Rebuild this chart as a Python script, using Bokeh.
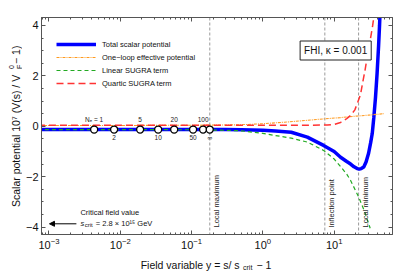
import math
from bokeh.plotting import figure
from bokeh.layouts import column, row
from bokeh.models import (Range1d, FixedTicker, LogAxis, LinearAxis, Label, Legend,
                          LegendItem, Span, Arrow, NormalHead, ColumnDataSource)
from bokeh.core.properties import value
from bokeh.embed import file_html
from bokeh.resources import INLINE

FONT = "Liberation Sans"

# ---------------- data ----------------
total_y = [0.0007, 0.01, 0.1, 0.3, 0.5, 1.0, 1.5, 2.5, 4.2, 7.1, 10.0, 12.3, 15.0, 17.0,
           19.0, 21.0, 22.5, 24.0, 26.0, 28.0, 30.4, 32.5, 34.2, 36.0, 38.0, 40.0, 42.0, 43.3, 45.0]
total_v = [-0.13, -0.13, -0.13, -0.13, -0.14, -0.16, -0.19, -0.24, -0.43, -0.76, -1.0, -1.23, -1.4, -1.5,
           -1.61, -1.68, -1.7, -1.68, -1.62, -1.42, -1.07, -0.65, -0.29, 0.35, 1.15, 2.1, 3.2, 4.0, 5.2]

loop_y = [0.0007, 0.001, 0.003, 0.01, 0.03, 0.1, 0.3, 0.5, 1.0, 2.0, 4.0, 7.0, 12.0, 20.0, 30.0, 50.0]
loop_v = [0.03, 0.03, 0.03, 0.03, 0.035, 0.04, 0.05, 0.06, 0.1, 0.16, 0.23, 0.29, 0.34, 0.4, 0.44, 0.5]

linear_y = [0.0007, 0.01, 0.1, 0.3, 0.49, 1.0, 1.43, 2.5, 4.22, 7.13, 10.0, 12.3, 15.0, 17.0, 22.0, 26.0, 30.4, 32.0]
linear_v = [-0.13, -0.13, -0.14, -0.16, -0.18, -0.28, -0.36, -0.47, -0.63, -0.96, -1.3, -1.6, -1.9, -2.15,
            -2.8, -3.3, -3.86, -4.05]

quartic_y = [0.0007, 0.01, 0.1, 1.0, 5.0, 8.0, 10.0, 12.3, 15.0, 17.0, 19.5, 21.4, 23.4, 24.8, 27.0,
             29.1, 32.4, 34.7, 37.0]
quartic_v = [0.04, 0.04, 0.04, 0.04, 0.04, 0.05, 0.07, 0.15, 0.3, 0.43, 0.65, 0.95, 1.25, 1.65, 2.2,
             2.75, 3.5, 4.0, 4.6]

ne_labels = ["N\u2091 = 1", "2", "5", "10", "20", "50", "100", "\u221e"]
ne_y = [0.0043, 0.0082, 0.019, 0.034, 0.057, 0.105, 0.145, 0.18]
ne_v = [-0.13, -0.13, -0.13, -0.13, -0.13, -0.13, -0.13, -0.13]

special_names = ["Local maximum", "Inflection point", "Local minimum"]
special_y = [0.18, 7.4, 22.0]

x_major = [0.001, 0.01, 0.1, 1.0, 10.0]
x_major_labels = ["10\u207b\u00b3", "10\u207b\u00b2", "10\u207b\u00b9", "10\u2070", "10\u00b9"]
y_major = [-4, -2, 0, 2, 4]
y_major_labels = ["\u22124", "\u22122", "0", "2", "4"]

# ---------------- layout helpers (reference pixel -> data) ----------------
X_UNIT, X_ZERO_PX = 71.5, 262.0
V_UNIT, V_ZERO_PX = 25.2, 125.75


def px2x(px):
    return 10 ** ((px - X_ZERO_PX) / X_UNIT)


def py2v(py):
    return (V_ZERO_PX - py) / V_UNIT


YLAB_W = 22
MAIN_H = 257
XLAB_H = 15

p = figure(width=395 - YLAB_W, height=MAIN_H, x_axis_type="log",
           x_range=Range1d(px2x(40), px2x(392)), y_range=Range1d(py2v(234), py2v(17)),
           output_backend="svg", toolbar_location=None,
           min_border_left=40 - YLAB_W, min_border_right=3, min_border_top=17,
           min_border_bottom=MAIN_H - 234)
p.grid.visible = False
p.outline_line_color = "#555555"
p.background_fill_color = "white"
p.border_fill_color = "white"

x_minor = [k * 10.0 ** d for d in range(-4, 2) for k in range(2, 10)]
y_minor = [-4 + 0.5 * i for i in range(17)]


def style_axis(ax, show):
    ax.axis_line_color = "#555555"
    ax.major_tick_line_color = "#555555"
    ax.minor_tick_line_color = "#555555"
    ax.major_tick_in = 4
    ax.major_tick_out = 0
    ax.minor_tick_in = 2
    ax.minor_tick_out = 0
    ax.major_label_text_font = FONT
    if show:
        ax.major_label_text_font_size = "11px"
        ax.major_label_text_color = "#111111"
        ax.major_label_standoff = 3
    else:
        ax.major_label_text_font_size = "1px"
        ax.major_label_text_color = None
        ax.major_label_standoff = 0


xa = p.xaxis[0]
xa.ticker = FixedTicker(ticks=x_major, minor_ticks=x_minor)
xa.major_label_overrides = {str(k): v for k, v in zip(x_major, x_major_labels)}
style_axis(xa, True)
ya = p.yaxis[0]
ya.ticker = FixedTicker(ticks=y_major, minor_ticks=y_minor)
ya.major_label_overrides = {str(k): v for k, v in zip(y_major, y_major_labels)}
style_axis(ya, True)

top_ax = LogAxis(ticker=FixedTicker(ticks=x_major, minor_ticks=x_minor))
style_axis(top_ax, False)
p.add_layout(top_ax, "above")
right_ax = LinearAxis(ticker=FixedTicker(ticks=y_major, minor_ticks=y_minor))
style_axis(right_ax, False)
p.add_layout(right_ax, "right")

# vertical reference lines + rotated labels
for loc, txt in zip(special_y, special_names):
    p.add_layout(Span(location=loc, dimension="height", line_color="#9a9a9a",
                      line_dash="3 2", line_width=1, level="underlay"))
    p.add_layout(Label(x=loc, y=py2v(227), text=txt, angle=math.pi / 2,
                       text_align="left", text_baseline="top", x_offset=2,
                       text_font=FONT, text_font_size="7.5px", text_color="#222222"))

# curves
r_total = p.line(total_y, total_v, line_color="#0000FF", line_width=3.5)
r_loop = p.line(loop_y, loop_v, line_color="#FF9A1F", line_width=1.1, line_dash="3 1 1 1")
r_lin = p.line(linear_y, linear_v, line_color="#22AA22", line_width=1.2, line_dash="4 3")
r_quart = p.line(quartic_y, quartic_v, line_color="#FF3333", line_width=1.5, line_dash="7 4")

# N_e markers and labels
p.scatter(ne_y, ne_v, size=7, fill_color="white", line_color="black", line_width=1.3)
above = ColumnDataSource(dict(x=ne_y[0::2], y=ne_v[0::2], t=ne_labels[0::2]))
below = ColumnDataSource(dict(x=ne_y[1::2], y=ne_v[1::2], t=ne_labels[1::2]))
p.text(x="x", y="y", text="t", source=above, text_font=value(FONT), text_font_size="6.5px",
       text_align="center", text_baseline="middle", y_offset=-10, text_color="#222222")
p.text(x="x", y="y", text="t", source=below, text_font=value(FONT), text_font_size="6.5px",
       text_align="center", text_baseline="middle", y_offset=8, text_color="#222222")

# legend
legend = Legend(items=[LegendItem(label="Total scalar potential", renderers=[r_total]),
                       LegendItem(label="One\u2212loop effective potential", renderers=[r_loop]),
                       LegendItem(label="Linear SUGRA term", renderers=[r_lin]),
                       LegendItem(label="Quartic SUGRA term", renderers=[r_quart])],
                location=(15, 145), glyph_width=40, glyph_height=12, label_height=12,
                spacing=1, padding=0, margin=0, label_standoff=6,
                label_text_font=FONT, label_text_font_size="7.5px", label_text_color="#111111",
                border_line_color=None, background_fill_alpha=0)
p.add_layout(legend)

# FHI box
p.add_layout(Label(x=px2x(335), y=py2v(50), text="FHI, \u03ba = 0.001", text_align="center",
                   text_baseline="middle", text_font=FONT, text_font_size="10px",
                   text_color="#111111", border_line_color="#222222", border_line_width=1,
                   background_fill_color="white", padding=4))

# critical field annotation
ann = dict(text_font=FONT, text_color="#111111", text_baseline="middle", text_align="left")
p.add_layout(Label(x=px2x(79), y=py2v(211.5), text="Critical field value", text_font_size="7.5px", **ann))
p.add_layout(Label(x=px2x(79), y=py2v(222.7), text="s", text_font_size="7.5px",
                   text_font_style="italic", **ann))
p.add_layout(Label(x=px2x(83.3), y=py2v(224.5), text="crit", text_font_size="6px", **ann))
p.add_layout(Label(x=px2x(94.5), y=py2v(222.7), text="= 2.8 \u00d7 10\u00b9\u2075 GeV",
                   text_font_size="7.5px", **ann))
p.add_layout(Arrow(x_start=px2x(75), y_start=py2v(223.3), x_end=px2x(48), y_end=py2v(223.3),
                   line_color="black", line_width=1,
                   end=NormalHead(size=5, fill_color="black", line_color="black")))


def label_fig(w, h):
    f = figure(width=w, height=h, x_range=Range1d(0, w), y_range=Range1d(0, h),
               output_backend="svg", toolbar_location=None,
               x_axis_location=None, y_axis_location=None, min_border=0)
    f.outline_line_color = None
    f.grid.visible = False
    f.background_fill_color = "white"
    f.border_fill_color = "white"
    return f


lab = dict(text_font=FONT, text_color="#111111", text_baseline="middle")

# y-axis label (composed, rotated); coordinates are pixels inside this strip
ylab = label_fig(YLAB_W, MAIN_H)
ylab.add_layout(Label(x=15, y=MAIN_H - 61, text="Scalar  potential  10\u2077 (V(s) / V",
                      text_font_size="10.5px", text_align="right", angle=math.pi / 2, **lab))
ylab.add_layout(Label(x=18.5, y=MAIN_H - 61, text="F", text_font_size="7px",
                      text_align="left", angle=math.pi / 2, **lab))
ylab.add_layout(Label(x=11, y=MAIN_H - 61, text="0", text_font_size="7px",
                      text_align="left", angle=math.pi / 2, **lab))
ylab.add_layout(Label(x=15, y=MAIN_H - 55, text="\u2212 1)", text_font_size="10.5px",
                      text_align="left", angle=math.pi / 2, **lab))

# x-axis label (composed); coordinates are pixels inside this strip (y up)
xlab = label_fig(395, XLAB_H)
xlab.add_layout(Label(x=242, y=8, text="Field variable  y = s/ s",
                      text_font_size="10.5px", text_align="right", **lab))
xlab.add_layout(Label(x=242.5, y=5.5, text="crit", text_font_size="7px",
                      text_align="left", **lab))
xlab.add_layout(Label(x=256, y=8, text="\u2212 1", text_font_size="10.5px",
                      text_align="left", **lab))

layout = column(row(ylab, p, spacing=0), xlab, spacing=0)
open("out.html", "w").write(file_html(layout, INLINE))
